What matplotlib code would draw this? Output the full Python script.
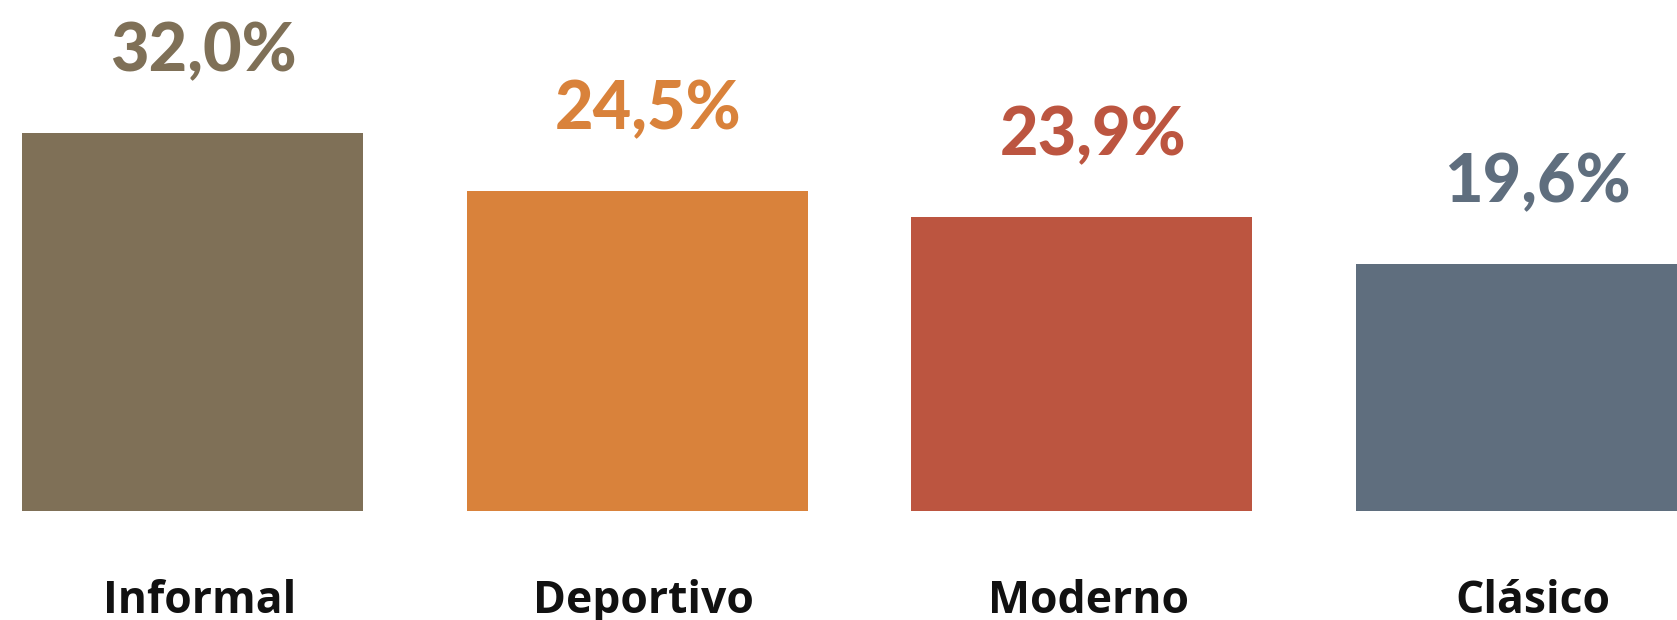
import matplotlib
matplotlib.use("Agg")
import matplotlib.pyplot as plt

categories = ["Informal", "Deportivo", "Moderno", "Clásico"]
value_labels = ["32,0%", "24,5%", "23,9%", "19,6%"]
# bar lengths as drawn in the picture (same units as the first bar's 32.0)
bar_heights = [32.0, 27.1, 24.9, 20.9]
colors = ["#7f7057", "#d9823b", "#bc5540", "#5f6e7e"]

W, H = 1677, 620
fig = plt.figure(figsize=(W / 100, H / 100), dpi=100)
ax = fig.add_axes([0, 0, 1, 1])

step_px = 444.5
px_per_unit = 378 / 32.0
x0_px = 192.5
base_px = 511

x = list(range(len(categories)))
ax.bar(x, bar_heights, width=341 / step_px, color=colors, linewidth=0)

ax.set_xlim(-x0_px / step_px, (W - x0_px) / step_px)
ax.set_ylim(-(H - base_px) / px_per_unit, base_px / px_per_unit)
ax.axis("off")

for xi, h, lab, c in zip(x, bar_heights, value_labels, colors):
    ax.text(xi + 0.025, h + 5.2, lab, ha="center", va="baseline",
            fontsize=48, fontweight="black", color=c,
            family=["Lato", "DejaVu Sans"])

for xi, cat in zip(x, categories):
    ax.text(xi + 0.015, -(613 - base_px) / px_per_unit, cat, ha="center",
            va="baseline", fontsize=32, fontweight="bold", color="#111111",
            family=["Open Sans", "DejaVu Sans"])

fig.savefig("out.png", dpi=100)
